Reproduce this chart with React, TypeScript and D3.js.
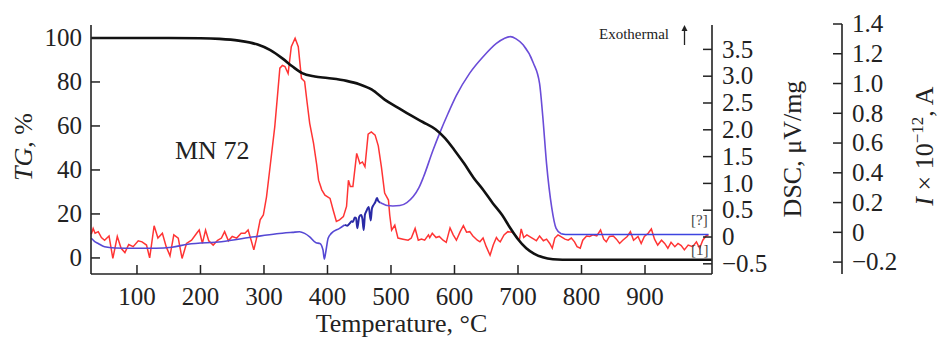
import React from "react";
import * as d3 from "d3";

// TG, % (left axis)
const tgData: [number, number][] = [
  [28, 100], [150, 100], [200, 99.9], [230, 99.6], [260, 98.8], [290, 97], [310, 94.5],
  [330, 90.5], [345, 87], [360, 84], [380, 82.5], [400, 81.8], [430, 80.5], [450, 79],
  [470, 76.5], [490, 72], [510, 68.5], [530, 65], [550, 61.8], [570, 58.5], [585, 54.5],
  [600, 49], [615, 43], [630, 36.5], [645, 31], [660, 25], [675, 19.5], [688, 13.5],
  [700, 8.5], [713, 4.4], [725, 2], [739, 0.3], [755, -0.6], [770, -0.8], [1005, -0.8],
];

// DSC, µV/mg (first right axis)
const dscData: [number, number][] = [
  [28, 0.05], [31, 0.16], [34, 0.07], [39, 0.1], [44, -0.01], [49, -0.06], [56, 0.02],
  [62, -0.4], [69, 0.01], [75, -0.21], [81, -0.29], [87, -0.14], [94, -0.18], [102, -0.07],
  [108, -0.09], [115, -0.15], [120, -0.39], [127, 0.21], [133, -0.02], [140, 0.07],
  [146, -0.18], [152, -0.35], [158, 0.04], [165, -0.02], [171, -0.4], [178, -0.12],
  [186, -0.06], [194, 0.07], [198, 0.13], [203, -0.12], [208, 0.13], [213, -0.07],
  [220, -0.15], [227, -0.06], [233, -0.02], [238, 0.1], [244, -0.07], [250, 0.01],
  [257, -0.02], [264, 0.07], [270, 0.07], [275, 0.13], [280, -0.07], [284, -0.24],
  [288, -0.04], [294, 0.32], [299, 0.41], [304, 0.75], [309, 1.25], [317, 2.06], [321, 2.6],
  [325, 3.15], [329, 3.2], [333, 3.18], [338, 3.05], [343, 3.55], [349, 3.71], [354, 3.55],
  [359, 2.96], [364, 2.9], [368, 2.5], [372, 2.12], [378, 1.75], [383, 1.35], [386, 1.06],
  [391, 0.88], [396, 0.78], [404, 0.72], [409, 0.5], [414, 0.29], [419, 0.32], [425, 0.38],
  [430, 0.57], [433, 1.06], [436, 0.94], [440, 0.94], [446, 1.56], [451, 1.37], [455, 1.4],
  [459, 1.31], [464, 1.92], [469, 1.96], [475, 1.9], [480, 1.7], [485, 1.3], [490, 0.82],
  [496, 0.69], [498, 0.41], [501, 0.13], [506, 0.22], [511, -0.02], [519, -0.04],
  [527, -0.06], [532, -0.02], [538, 0.16], [543, -0.06], [548, -0.04], [553, -0.06],
  [559, 0.04], [561, -0.01], [565, 0.07], [571, -0.01], [576, 0.01], [582, -0.06],
  [587, -0.1], [593, 0.17], [598, 0.04], [603, -0.06], [609, 0.1], [614, 0.21], [619, 0.09],
  [624, 0.1], [629, 0.02], [636, -0.06], [640, -0.09], [645, -0.02], [650, -0.18],
  [656, -0.34], [661, -0.15], [666, -0.01], [669, -0.06], [672, -0.09], [678, 0.04],
  [684, 0.1], [691, 0.09], [697, 0.02], [702, -0.07], [705, 0.15], [709, -0.01], [714, 0.04],
  [721, -0.01], [725, -0.04], [729, -0.07], [734, 0.02], [740, -0.07], [745, -0.04],
  [750, -0.12], [754, -0.21], [758, -0.02], [763, 0.04], [767, 0.01], [774, -0.04],
  [779, -0.06], [784, -0.02], [789, -0.09], [793, -0.18], [798, -0.21], [802, -0.06],
  [808, 0.02], [813, 0.01], [818, 0.04], [824, 0.02], [830, 0.13], [835, -0.04], [839, -0.09],
  [844, 0.01], [850, 0.02], [855, -0.04], [860, -0.12], [865, -0.06], [872, 0.01], [877, 0.1],
  [882, -0.06], [889, 0.01], [894, -0.12], [899, 0.01], [905, 0.07], [910, 0.15], [915, -0.04],
  [920, -0.15], [926, -0.06], [931, -0.12], [936, -0.21], [941, -0.1], [947, -0.18],
  [952, -0.12], [957, -0.16], [962, -0.24], [968, -0.15], [975, -0.18], [981, -0.09],
  [986, -0.21], [991, -0.06], [996, 0.02], [1000, 0.04],
];

// Ion current, I x 10^-12 A (second right axis)
const ionData: [number, number][] = [
  [28, -0.04], [33, -0.06], [39, -0.075], [49, -0.097], [65, -0.105], [100, -0.107],
  [130, -0.107], [155, -0.1], [180, -0.08], [233, -0.063], [285, -0.03], [320, -0.01],
  [345, 0.0], [356, 0.004], [364, -0.007], [372, -0.03], [382, -0.07], [388, -0.075],
  [393, -0.12], [395, -0.18], [397, -0.14], [401, -0.04], [406, -0.007], [419, 0.027],
  [427, 0.05], [431, 0.045], [435, 0.06], [438, 0.075], [440, 0.07], [443, 0.1], [445, 0.095],
  [447, 0.027], [450, 0.105], [453, 0.116], [455, 0.09], [457, 0.015], [459, 0.12],
  [461, 0.14], [465, 0.17], [468, 0.08], [470, 0.16], [472, 0.18], [475, 0.2], [478, 0.23],
  [480, 0.21], [483, 0.2], [488, 0.19], [494, 0.18], [503, 0.177], [514, 0.18], [525, 0.2],
  [535, 0.24], [544, 0.3], [551, 0.37], [566, 0.55], [577, 0.67], [590, 0.8],
  [603, 0.92], [624, 1.07], [645, 1.18], [666, 1.27], [679, 1.305], [688, 1.315], [697, 1.3],
  [708, 1.26], [724, 1.14], [734, 1.0], [739, 0.78], [745, 0.46], [753, 0.17], [760, 0.027],
  [768, -0.01], [775, -0.015], [1000, -0.015],
];

// colour segments of the ion current trace
const ionSegments = [
  { from: 28, to: 427, color: "#5548d4" },
  { from: 427, to: 483, color: "#2a2aa6" },
  { from: 483, to: 768, color: "#6a4cd8" },
  { from: 768, to: 1000, color: "#3d44e0" },
];

const xTicks = [100, 200, 300, 400, 500, 600, 700, 800, 900];
const tgTicks = [0, 20, 40, 60, 80, 100];
const dscTicks = [-0.5, 0, 0.5, 1, 1.5, 2, 2.5, 3, 3.5];
const ionTicks = [-0.2, 0, 0.2, 0.4, 0.6, 0.8, 1, 1.2, 1.4];

const W = 940;
const H = 339;
const left = 91;
const right = 712;
const top = 25;
const bottom = 274;
const ionAxisX = 842;
const font = "'Liberation Serif', 'Times New Roman', serif";
const tickFs = 25;
const titleFs = 26;

const fmt = (v: number) => (v === 0 ? "0" : d3.format(".1f")(v));

export default function App() {
  const x = d3.scaleLinear().domain([27.6, 1005.5]).range([left, right]);
  const yTG = d3.scaleLinear().domain([-7.3, 105.9]).range([bottom, top]);
  const yDSC = d3.scaleLinear().domain([-0.69, 3.955]).range([bottom, top]);
  const yIon = d3.scaleLinear().domain([-0.28, 1.4]).range([bottom, 24]);

  const tgLine = d3
    .line<[number, number]>()
    .x((d) => x(d[0]))
    .y((d) => yTG(d[1]))
    .curve(d3.curveMonotoneX);
  const dscLine = d3
    .line<[number, number]>()
    .x((d) => x(d[0]))
    .y((d) => yDSC(d[1]));
  const ionLine = d3
    .line<[number, number]>()
    .x((d) => x(d[0]))
    .y((d) => yIon(d[1]))
    .curve(d3.curveMonotoneX);

  const axisStroke = "#222";

  return (
    <svg
      width={W}
      height={H}
      style={{ position: "absolute", left: 0, top: 0, background: "#fff" }}
      fontFamily={font}
    >
      {/* data */}
      <path d={dscLine(dscData) ?? ""} fill="none" stroke="#ff3434" strokeWidth={1.5} />
      {ionSegments.map((s, i) => (
        <path
          key={i}
          d={ionLine(ionData.filter((d) => d[0] >= s.from && d[0] <= s.to)) ?? ""}
          fill="none"
          stroke={s.color}
          strokeWidth={i === 1 ? 2 : 1.6}
        />
      ))}
      <path d={tgLine(tgData) ?? ""} fill="none" stroke="#111" strokeWidth={2.6} />

      {/* left TG axis */}
      <line x1={left} x2={left} y1={top} y2={bottom} stroke={axisStroke} strokeWidth={1.6} />
      {tgTicks.map((t) => (
        <g key={t} transform={`translate(${left},${yTG(t)})`}>
          <line x1={0} x2={9} stroke={axisStroke} strokeWidth={1.5} />
          <text x={-9} dy="0.33em" textAnchor="end" fontSize={tickFs} fill="#222">
            {t}
          </text>
        </g>
      ))}
      <text
        transform={`translate(32,147) rotate(-90)`}
        textAnchor="middle"
        fontSize={titleFs}
        fill="#222"
      >
        <tspan fontStyle="italic">TG</tspan>, %
      </text>

      {/* bottom temperature axis */}
      <line x1={left} x2={right} y1={bottom} y2={bottom} stroke={axisStroke} strokeWidth={1.6} />
      {xTicks.map((t) => (
        <g key={t} transform={`translate(${x(t)},${bottom})`}>
          <line y1={0} y2={-9} stroke={axisStroke} strokeWidth={1.5} />
          <text y={31} textAnchor="middle" fontSize={tickFs} fill="#222">
            {t}
          </text>
        </g>
      ))}
      <text x={(left + right) / 2} y={332} textAnchor="middle" fontSize={titleFs} fill="#222">
        Temperature, °C
      </text>

      {/* DSC axis */}
      <line x1={right} x2={right} y1={top} y2={bottom} stroke={axisStroke} strokeWidth={1.6} />
      {dscTicks.map((t) => (
        <g key={t} transform={`translate(${right},${yDSC(t)})`}>
          <line x1={0} x2={-9} stroke={axisStroke} strokeWidth={1.5} />
          <text x={10} dy="0.33em" textAnchor="start" fontSize={tickFs} fill="#222">
            {fmt(t)}
          </text>
        </g>
      ))}
      <text
        transform={`translate(801,149) rotate(-90)`}
        textAnchor="middle"
        fontSize={titleFs}
        fill="#222"
      >
        DSC, μV/mg
      </text>

      {/* ion current axis */}
      <line x1={ionAxisX} x2={ionAxisX} y1={24} y2={bottom} stroke={axisStroke} strokeWidth={1.6} />
      {ionTicks.map((t) => (
        <g key={t} transform={`translate(${ionAxisX},${yIon(t)})`}>
          <line x1={0} x2={-9} stroke={axisStroke} strokeWidth={1.5} />
          <text x={10} dy="0.33em" textAnchor="start" fontSize={tickFs} fill="#222">
            {fmt(t)}
          </text>
        </g>
      ))}
      <text
        transform={`translate(933,146) rotate(-90)`}
        textAnchor="middle"
        fontSize={titleFs}
        fill="#222"
      >
        <tspan fontStyle="italic">I</tspan> × 10
        <tspan dy={-10} fontSize={17}>−12</tspan>
        <tspan dy={10}>, A</tspan>
      </text>

      {/* annotations */}
      <text x={175} y={159} fontSize={titleFs} fill="#222">
        MN 72
      </text>
      <text x={599} y={39} fontSize={15} fill="#222">
        Exothermal
      </text>
      <line x1={684.5} x2={684.5} y1={45} y2={28} stroke="#222" strokeWidth={1.3} />
      <path d="M684.5,25 L681.5,31 L687.5,31 Z" fill="#222" />
      <text x={691} y={225} fontSize={15} fill="#444">
        [?]
      </text>
      <text x={691} y={255} fontSize={15} fill="#444">
        [1]
      </text>
    </svg>
  );
}
